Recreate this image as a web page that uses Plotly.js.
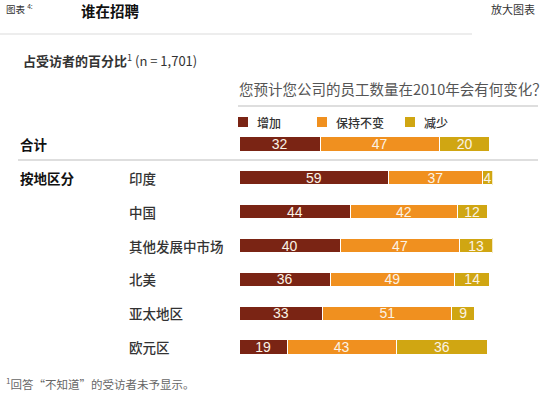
<!DOCTYPE html>
<html><head><meta charset="utf-8">
<script src="https://cdn.plot.ly/plotly-3.0.1.min.js"></script>
<style>html,body{margin:0;padding:0;background:#fff}</style>
</head><body>
<div id="chart" style="width:560px;height:399px"></div>
<script>
const categories = ['合计','印度','中国','其他发展中市场','北美','亚太地区','欧元区'];
const increase = [32,59,44,40,36,33,19];
const unchanged = [47,37,42,47,49,51,43];
const decrease = [20,4,12,13,14,9,36];
const seriesNames = ['增加','保持不变','减少'];
const colors = ['#7a2414','#f0901f','#d0a612'];

const W = 560, H = 399;
const px = x => x / W, py = y => 1 - y / H;

const ypos = categories.map((c, i) => i);
const series = [increase, unchanged, decrease];
const traces = series.map((vals, k) => ({
  type: 'bar', orientation: 'h', x: vals, y: ypos, name: seriesNames[k],
  marker: {color: colors[k], line: {color: '#ffffff', width: 1}},
  width: 0.42,
  text: vals.map(String), textposition: 'inside', insidetextanchor: 'middle',
  constraintext: 'none', textangle: 0,
  textfont: {color: '#fbf3e6', size: 14, family: 'Liberation Sans, Arial, sans-serif'},
  hoverinfo: 'skip', showlegend: false
}));

const cjk = '"Noto Sans CJK SC", "Noto Sans", sans-serif';
const ann = [];
categories.forEach((c, i) => {
  ann.push({text: c, xref: 'paper', yref: 'y', x: px(i === 0 ? 18 : 127), y: i,
    xanchor: 'left', yanchor: 'middle', showarrow: false,
    font: {family: cjk, size: 13.5, color: i === 0 ? '#111' : '#333', weight: i === 0 ? 700 : 500}});
});
ann.push({text: '按地区分', xref: 'paper', yref: 'y', x: px(18), y: 1, xanchor: 'left', yanchor: 'middle',
  showarrow: false, font: {family: cjk, size: 13.5, color: '#111', weight: 700}});
seriesNames.forEach((n, k) => {
  const lx = [238, 317, 405][k];
  ann.push({text: n, xref: 'paper', yref: 'paper', x: px(lx + 17), y: py(122), xanchor: 'left', yanchor: 'middle',
    showarrow: false, font: {family: cjk, size: 12, color: '#333', weight: 500}});
});
ann.push({text: '图表 <sup>4:</sup>', xref: 'paper', yref: 'paper', x: px(4), y: py(9), xanchor: 'left', yanchor: 'middle',
  showarrow: false, font: {family: cjk, size: 9.5, color: '#333'}});
ann.push({text: '谁在招聘', xref: 'paper', yref: 'paper', x: px(79), y: py(10), xanchor: 'left', yanchor: 'middle',
  showarrow: false, font: {family: cjk, size: 14.5, color: '#111', weight: 700}});
ann.push({text: '放大图表', xref: 'paper', yref: 'paper', x: px(489), y: py(9), xanchor: 'left', yanchor: 'middle',
  showarrow: false, font: {family: cjk, size: 11, color: '#333'}});
ann.push({text: '<b>占受访者的百分比</b><sup>1</sup> (n = 1,701)', xref: 'paper', yref: 'paper', x: px(21), y: py(60),
  xanchor: 'left', yanchor: 'middle', showarrow: false, font: {family: cjk, size: 13, color: '#333'}});
ann.push({text: '您预计您公司的员工数量在2010年会有何变化？', xref: 'paper', yref: 'paper', x: px(237), y: py(88),
  xanchor: 'left', yanchor: 'middle', showarrow: false, font: {family: cjk, size: 14.5, color: '#555'}});
ann.push({text: '<sup>1</sup>回答“不知道”的受访者未予显示。', xref: 'paper', yref: 'paper', x: px(4), y: py(383),
  xanchor: 'left', yanchor: 'middle', showarrow: false, font: {family: cjk, size: 11.5, color: '#666'}});

const shapes = [
  {type: 'line', xref: 'paper', yref: 'paper', x0: 0, x1: px(472), y0: py(34), y1: py(34), line: {color: '#ededed', width: 2}},
  {type: 'line', xref: 'paper', yref: 'paper', x0: px(238), x1: px(538), y0: py(106), y1: py(106), line: {color: '#dedede', width: 2}},
  {type: 'line', xref: 'paper', yref: 'paper', x0: px(18), x1: px(538), y0: py(160), y1: py(160), line: {color: '#dedede', width: 2}}
];
seriesNames.forEach((n, k) => {
  const lx = [238, 317, 405][k];
  shapes.push({type: 'rect', xref: 'paper', yref: 'paper', x0: px(lx), x1: px(lx + 10), y0: py(127), y1: py(117),
    fillcolor: colors[k], line: {width: 0}});
});

const layout = {
  width: W, height: H, margin: {l: 0, r: 0, t: 0, b: 0},
  paper_bgcolor: '#fff', plot_bgcolor: '#fff',
  barmode: 'stack', bargap: 0,
  xaxis: {domain: [px(239), px(492.5)], range: [0, 100], visible: false, fixedrange: true},
  yaxis: {domain: [py(364), py(127)], range: [6.5, -0.5], visible: false, fixedrange: true},
  annotations: ann, shapes: shapes, showlegend: false
};
Plotly.newPlot('chart', traces, layout, {displayModeBar: false, staticPlot: true});
</script>
</body></html>
